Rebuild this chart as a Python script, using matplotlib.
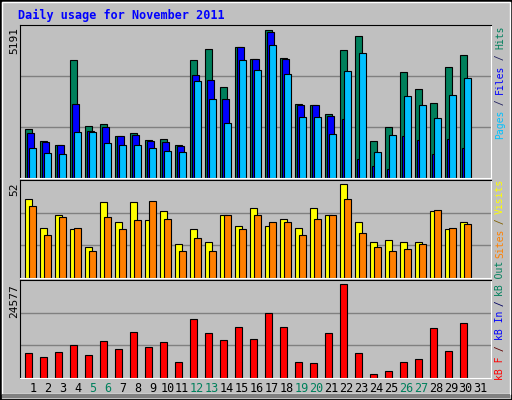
import numpy as np
import matplotlib
matplotlib.use("Agg")
import matplotlib.pyplot as plt
from matplotlib.patches import Rectangle

days = np.arange(1, 32)
weekend = [5, 6, 12, 13, 19, 20, 26, 27]

hits = [1722, 1298, 1156, 4129, 1829, 1899, 1475, 1581, 1333, 1369, 1156, 4129, 4519, 3174, 4589,
        4165, 5191, 4200, 2607, 2572, 2253, 4483, 4955, 1298, 1793, 3705, 3103, 2643, 3882, 4306, 0]
files = [1581, 1262, 1156, 2607, 1652, 1793, 1475, 1510, 1298, 1262, 1121, 3598, 3421, 2749, 4589,
         4165, 5120, 4165, 2572, 2572, 2183, 2076, 661, 413, 307, 1475, 1333, 838, 1369, 1050, 0]
pages = [1050, 873, 838, 1616, 1616, 1227, 1156, 1156, 1050, 944, 908, 3386, 2749, 1935, 4129,
         3775, 4660, 3634, 2147, 2147, 1546, 3740, 4377, 908, 1510, 2855, 2572, 2112, 2890, 3492, 0]
visits = [44, 28, 35, 27, 17, 42, 31, 42, 32, 37, 19, 27, 20, 35, 29, 39, 29, 33, 28, 39, 35, 52,
          31, 20, 21, 20, 20, 37, 27, 31, 0]
sites = [40, 24, 34, 28, 15, 34, 27, 32, 43, 33, 15, 22, 15, 35, 27, 35, 31, 31, 24, 33, 35, 44,
         25, 17, 15, 16, 19, 38, 28, 30, 0]
kbytes = [6548, 5472, 6817, 8701, 6010, 9777, 7624, 11930, 8163, 9508, 4126, 15428, 11661, 10046,
          13275, 10315, 17043, 13275, 4126, 3857, 11661, 24577, 6548, 1166, 1704, 4126, 4933, 13006,
          7086, 14352, 0]

BG = "#c0c0c0"
C_HITS, C_FILES, C_PAGES = "#00805c", "#0000ff", "#00c0ff"
C_VISITS, C_SITES, C_KB = "#ffff00", "#ff8000", "#ff0000"
MONO = "DejaVu Sans Mono"

W, H = 512, 400
fig = plt.figure(figsize=(W / 100, H / 100), dpi=100)
fig.patch.set_facecolor(BG)

# outer frame
fig.add_artist(Rectangle((0, 0), 1, 1, transform=fig.transFigure, fill=False, ec="black", lw=2))
fig.add_artist(Rectangle((2 / W, 6 / H), 1 - 4 / W, 1 - 8 / H, transform=fig.transFigure,
                         fill=False, ec="white", lw=1))
fig.add_artist(Rectangle((2 / W, 2 / H), 1 - 4 / W, 4 / H, transform=fig.transFigure,
                         fc="#808080", ec="none"))

fig.text(18 / W, 1 - 15 / H, "Daily usage for November 2011", color="#0000ff", family=MONO,
         weight="bold", fontsize=8.5, va="center", ha="left")


def panel(top, bottom):
    ax = fig.add_axes([20 / W, 1 - bottom / H, 471 / W, (bottom - top) / H])
    ax.set_facecolor(BG)
    ax.set_xlim(0.287, 0.287 + 471 / 15)
    ax.set_xticks([])
    ax.set_yticks([])
    for s in ["left", "top"]:
        ax.spines[s].set_color("black")
    for s in ["right", "bottom"]:
        ax.spines[s].set_color("white")
    return ax


def grid(ax, top):
    for f in (1 / 3, 2 / 3):
        ax.axhline(top * f, color="#808080", lw=1, zorder=0)


bw = 0.49
x0 = days - 0.38

ax1 = panel(25, 178)
top1 = 5191 * 454 / 440
ax1.set_ylim(0, top1)
grid(ax1, top1)
m = np.array(hits) > 0
ax1.bar(x0[m], np.array(hits)[m], bw, align="edge", color=C_HITS, ec="black", lw=0.8)
ax1.bar(x0[m] + 0.133, np.array(files)[m], bw, align="edge", color=C_FILES, ec="black", lw=0.8)
ax1.bar(x0[m] + 0.267, np.array(pages)[m], bw, align="edge", color=C_PAGES, ec="black", lw=0.8)

ax2 = panel(180, 278)
top2 = 52 * 289 / 276
ax2.set_ylim(0, top2)
grid(ax2, top2)
ax2.bar(x0[m], np.array(visits)[m], bw, align="edge", color=C_VISITS, ec="black", lw=0.8)
ax2.bar(x0[m] + 0.27, np.array(sites)[m], bw, align="edge", color=C_SITES, ec="black", lw=0.8)

ax3 = panel(280, 378)
top3 = 24577 * 286 / 274
ax3.set_ylim(0, top3)
grid(ax3, top3)
ax3.bar(x0[m], np.array(kbytes)[m], bw, align="edge", color=C_KB, ec="black", lw=0.8)

# y max labels
for txt, y in [("5191", 27), ("52", 182), ("24577", 284)]:
    fig.text(14 / W, 1 - y / H, txt, rotation=90, family=MONO, fontsize=8, ha="center", va="top")

# day labels
for d in days:
    xp = 33 + 14.92 * (d - 1)
    fig.text(xp / W, 1 - 389 / H, str(d), family=MONO, fontsize=8.5, ha="center", va="center",
             color=C_HITS if d in weekend else "black")

# right side legends, written bottom-to-top
CH = 5.6


def side_label(parts, top_y):
    n = sum(len(p) for p, _ in parts)
    y = top_y + n * CH
    for txt, col in parts:
        fig.text(500 / W, 1 - y / H, txt, rotation=90, family=MONO, fontsize=7, color=col,
                 ha="center", va="bottom")
        y -= len(txt) * CH


side_label([("Pages", C_PAGES), (" / ", "#202060"), ("Files", C_FILES), (" / ", "#202060"),
            ("Hits", C_HITS)], 27)
side_label([("Sites", C_SITES), (" / ", "#806000"), ("Visits", C_VISITS)], 180)
side_label([("kB F", C_KB), (" / ", "#600000"), ("kB In", C_FILES), (" / ", "#000060"),
            ("kB Out", C_HITS)], 262)

fig.savefig("out.png", dpi=100, facecolor=BG)
